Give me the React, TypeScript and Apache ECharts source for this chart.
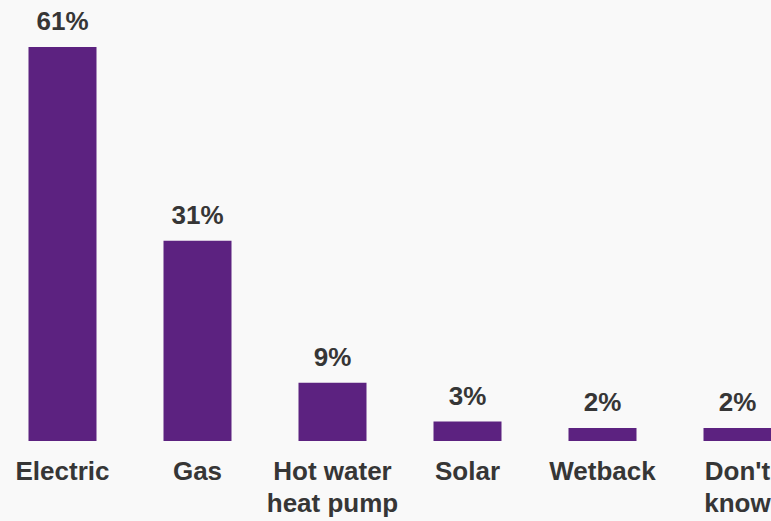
import React, { useEffect, useRef } from "react";
import * as echarts from "echarts";

const categories = ["Electric", "Gas", "Hot water\nheat pump", "Solar", "Wetback", "Don't\nknow"];
const values = [61, 31, 9, 3, 2, 2];

export default function App() {
  const ref = useRef<HTMLDivElement>(null);
  useEffect(() => {
    document.body.style.margin = "0";
    document.body.style.background = "#f9f9f9";
    const chart = echarts.init(ref.current!, null, { renderer: "svg" });
    chart.setOption({
      animation: false,
      backgroundColor: "#f9f9f9",
      grid: { left: 0, right: 0, top: 47, bottom: 80, containLabel: false },
      xAxis: {
        type: "category",
        data: categories,
        axisLine: { show: false },
        axisTick: { show: false },
        axisLabel: {
          interval: 0,
          margin: 14,
          color: "#363636",
          fontSize: 26,
          fontWeight: "bold",
          fontFamily: "Liberation Sans, Arial, sans-serif",
          lineHeight: 32,
        },
      },
      yAxis: { type: "value", min: 0, max: 61, show: false },
      series: [
        {
          type: "bar",
          data: values,
          barWidth: 68,
          itemStyle: { color: "#5c2280" },
          label: {
            show: true,
            position: "top",
            distance: 13,
            formatter: "{c}%",
            color: "#363636",
            fontSize: 26,
            fontWeight: "bold",
            fontFamily: "Liberation Sans, Arial, sans-serif",
          },
        },
      ],
    });
    return () => chart.dispose();
  }, []);
  return (
    <div style={{ position: "absolute", left: 0, top: 0, width: 771, height: 521, overflow: "hidden", background: "#f9f9f9" }}>
      <div ref={ref} style={{ position: "absolute", left: -5.5, top: 0, width: 810, height: 521 }} />
    </div>
  );
}
